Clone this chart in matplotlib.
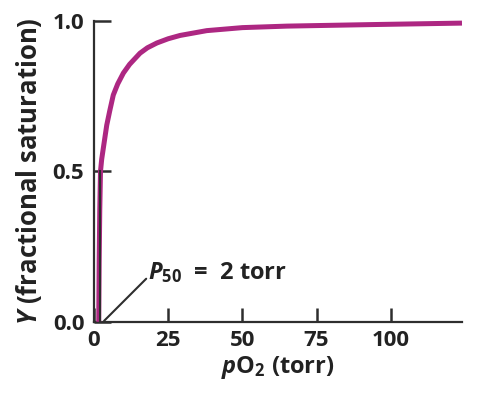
import numpy as np
import matplotlib.pyplot as plt

# values
po2 = [1.6, 1.75, 1.95, 2.2, 2.6, 3.2, 4.3, 5.3, 6.5, 8, 9.9, 12, 15.5, 18,
       21.2, 25, 29, 38, 50, 65, 93, 124]
sat = [0.0, 0.2, 0.37, 0.5, 0.54, 0.58, 0.653, 0.7, 0.753, 0.79, 0.826, 0.855,
       0.892, 0.91, 0.926, 0.94, 0.951, 0.967, 0.977, 0.982, 0.987, 0.992]
p50 = 2
xticks = [0, 25, 50, 75, 100]
yticks = [0.0, 0.5, 1.0]
ytick_labels = ["0.0", "0.5", "1.0"]

plt.rcParams['font.family'] = ['Open Sans', 'DejaVu Sans']
plt.rcParams['font.weight'] = 'bold'
plt.rcParams['mathtext.fontset'] = 'custom'
plt.rcParams['mathtext.rm'] = 'Open Sans:bold'
plt.rcParams['mathtext.it'] = 'Open Sans:italic:bold'
plt.rcParams['mathtext.bf'] = 'Open Sans:bold'

axc = '#2e2e2e'
txc = '#222222'
fig = plt.figure(figsize=(4.91, 3.98), dpi=100)
ax = fig.add_axes([0.1914, 0.1915, 0.7495, 0.7565])

ax.plot(po2, sat, color='#ad2782', lw=3.6, solid_capstyle='butt', clip_on=False, zorder=3)
# drop line at P50
ax.plot([p50, p50], [0, 0.5], color=axc, lw=1.5, zorder=4)

ax.set_xlim(0, 124)
ax.set_ylim(0, 1)
ax.spines['top'].set_visible(False)
ax.spines['right'].set_visible(False)
for s in ['left', 'bottom']:
    ax.spines[s].set_color(axc)
    ax.spines[s].set_linewidth(1.6)

ax.set_xticks(xticks)
ax.set_yticks(yticks)
ax.set_yticklabels(ytick_labels)
ax.tick_params(direction='in', width=1.8, color=axc, labelsize=16, labelcolor=txc)
ax.tick_params(axis='x', length=10, pad=6)
ax.tick_params(axis='y', length=12, pad=7)
for lab in ax.get_xticklabels() + ax.get_yticklabels():
    lab.set_fontweight('bold')

ax.set_xlabel(r'$\it{p}$O$_2$ (torr)', fontsize=17, fontweight='bold', color=txc, labelpad=2)
ax.set_ylabel(r'$\it{Y}$ (fractional saturation)', fontsize=18.5, fontweight='bold',
              color=txc, labelpad=6)

ax.annotate('', xy=(3.4, 0.003), xytext=(17.6, 0.143),
            arrowprops=dict(arrowstyle='-', color=axc, lw=1.5, shrinkA=0, shrinkB=0))
ax.text(18.2, 0.143, r'$\it{P}$$_{50}$  =  2 torr', fontsize=17, fontweight='bold',
        color=txc, va='baseline', ha='left')

fig.savefig('out.png', dpi=100)
